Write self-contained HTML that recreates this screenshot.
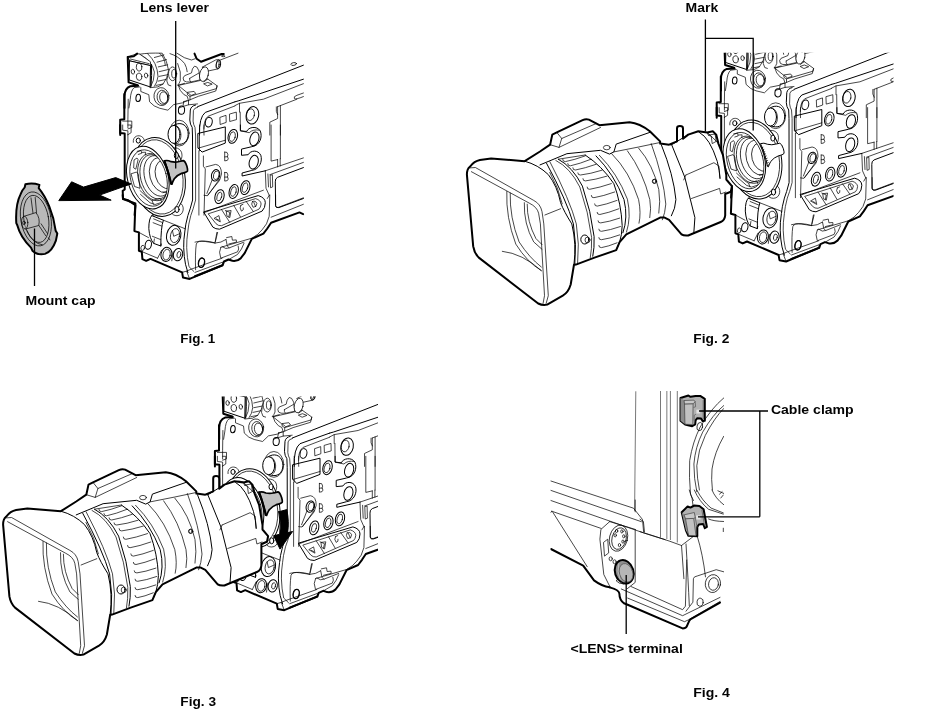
<!DOCTYPE html>
<html><head><meta charset="utf-8">
<style>
html,body{margin:0;padding:0;background:#fff;}
svg{display:block;}
text{font-family:"Liberation Sans",sans-serif;font-weight:bold;font-size:13.4px;fill:#000;}
.l{fill:none;stroke:#000;stroke-width:1.0;stroke-linecap:round;stroke-linejoin:round;}
.t{fill:none;stroke:#000;stroke-width:0.72;stroke-linecap:round;stroke-linejoin:round;}
.h{fill:none;stroke:#000;stroke-width:2.0;stroke-linecap:round;stroke-linejoin:round;}
.w{fill:#fff;stroke:#000;stroke-width:1.0;stroke-linecap:round;stroke-linejoin:round;}
.wt{fill:#fff;stroke:#000;stroke-width:0.72;stroke-linecap:round;stroke-linejoin:round;}
.wh{fill:#fff;stroke:#000;stroke-width:2.0;stroke-linecap:round;stroke-linejoin:round;}
.g{fill:#9a9a9a;stroke:#000;stroke-width:1;stroke-linejoin:round;}
.ld{fill:none;stroke:#000;stroke-width:1.3;}
</style></head><body>
<svg width="930" height="714" viewBox="0 0 930 714">
<rect width="930" height="714" fill="#fff"/>
<defs><g id="cam"><path class="wt" d="M 139.8 54.2 Q 148.4 52.7 162.2 53.2 Q 167.3 60.9 168.6 70.4 Q 167.7 78.1 163.0 84.1 L 157.8 86.9 L 150.1 87.7 L 150.5 65.6 Z"/>
<path class="t" d="M 139.8 54.5 Q 151.8 60.0 154.4 72.1 Q 154.4 80.7 150.3 87.6"/>
<path class="t" d="M 147.5 53.6 Q 157.4 62.6 158.0 76.4 Q 157.4 82.4 154.4 86.3"/>
<path class="t" d="M 154.4 57.5 L 163.9 54.9"/>
<path class="t" d="M 157.0 62.2 L 166.5 59.6"/>
<path class="t" d="M 158.3 66.9 L 167.7 64.8"/>
<path class="t" d="M 159.1 71.7 L 168.3 69.5"/>
<path class="t" d="M 159.1 76.4 L 167.8 74.7"/>
<path class="t" d="M 158.3 81.1 L 166.1 79.4"/>
<path class="t" d="M 156.1 85.4 L 163.0 84.0"/>
<path class="wt" d="M 127.7 57.0 L 137.2 53.6 L 139.8 54.2 L 150.5 61.8 L 150.5 65.6 L 129.9 60.9 Z"/>
<path class="w" d="M 129.9 60.9 L 150.5 65.6 L 150.1 86.9 L 129.5 80.0 Z"/>
<path class="t" d="M 130.3 59.0 L 149.2 63.7"/>
<path class="l" d="M 151.5 64.5 Q 152.0 75.5 151.0 86.3"/>
<path class="h" d="M 137.2 53.6 L 133.8 56.2 L 127.7 57.0 L 128.6 82.4 L 137.6 85.2"/>
<path class="t" d="M 127.7 57.0 L 129.9 60.9"/>
<ellipse class="t" cx="139.1" cy="67.1" rx="2.8" ry="3.9" transform="rotate(-8 139.1 67.1)"/>
<ellipse class="t" cx="139.1" cy="76.8" rx="2.8" ry="3.6" transform="rotate(-8 139.1 76.8)"/>
<ellipse class="t" cx="132.9" cy="71.7" rx="1.7" ry="2.4" transform="rotate(-8 132.9 71.7)"/>
<ellipse class="t" cx="146.1" cy="75.5" rx="1.7" ry="2.4" transform="rotate(-8 146.1 75.5)"/>
<path class="h" d="M 138.1 85.8 L 130.3 86.3 Q 124.7 88.4 124.5 96.2 L 124.5 108.0"/>
<path class="h" d="M 124.3 94.0 L 124.3 119.3 L 120.2 119.8 L 120.2 135.1"/>
<path class="t" d="M 139.8 86.9 L 134.2 87.6 Q 130.8 90.2 130.2 99.6 L 128.9 108.0"/>
<path class="t" d="M 128.2 99.2 L 127.9 119.2 L 127.9 127.6"/>
<path class="t" d="M 122.7 121.1 L 131.8 121.1 L 131.8 127.6 L 127.9 128.9"/>
<path class="t" d="M 140.8 87.6 L 140.8 91.5 L 148.8 94.7 L 149.6 101.8 Q 153.7 106.7 159.5 108.2 L 167.9 110.2 L 173.7 104.6 L 182.7 102.8 L 187.3 100.5"/>
<ellipse class="t" cx="161.5" cy="96.6" rx="7.5" ry="9.0" transform="rotate(-8 161.5 96.6)"/>
<ellipse class="t" cx="162.5" cy="97.3" rx="5.4" ry="7.1" transform="rotate(-8 162.5 97.3)"/>
<ellipse class="t" cx="163.8" cy="97.6" rx="4.1" ry="5.8" transform="rotate(-8 163.8 97.6)"/>
<ellipse class="l" cx="138.2" cy="97.9" rx="2.3" ry="3.6" transform="rotate(5 138.2 97.9)"/>
<ellipse class="l" cx="181.5" cy="110.2" rx="3.1" ry="4.1" transform="rotate(5 181.5 110.2)"/>
<path class="t" d="M 159.7 53.3 Q 164.8 57.5 165.3 65.2 M 167.4 76.4 Q 165.7 81.5 168.3 85.0 L 170.9 85.8"/>
<ellipse class="t" cx="172.6" cy="73.8" rx="4.1" ry="6.9"/>
<ellipse class="t" cx="173.9" cy="73.8" rx="2.2" ry="4.3"/>
<path class="t" d="M 170.0 53.6 Q 178.6 56.2 184.6 63.5 Q 186.8 67.4 187.2 71.7 M 176.9 53.2 Q 184.6 58.8 191.5 60.0 L 194.9 58.8 M 177.7 63.5 Q 181.6 72.1 180.3 80.7 Q 179.5 83.3 177.7 85.2"/>
<path class="t" d="M 178.2 85.2 L 184.6 83.3 M 207.8 79.1 L 217.1 85.8 L 216.5 88.6 L 190.0 96.3 L 187.6 94.9 L 187.2 92.7 L 178.6 85.7 Z"/>
<path class="t" d="M 178.2 85.2 Q 179.5 91.0 183.8 94.5 L 187.2 96.2 L 188.5 100.6 L 183.8 101.5 M 217.1 85.8 L 215.8 91.0 L 198.4 96.3 L 190.0 99.8 L 188.5 100.6 M 190.0 96.3 L 190.0 99.8"/>
<path class="t" d="M 204.0 83.7 L 207.8 82.4 L 212.2 84.1 L 207.8 85.8 Z M 187.6 92.3 L 194.1 91.4 L 195.8 93.6 L 191.5 95.3 Z"/>
<path class="t" d="M 183.8 101.5 L 182.9 106.5 L 178.6 108.0 M 188.5 100.6 L 188.5 104.8 L 197.5 103.9 M 188.5 104.8 L 182.9 106.5"/>
<path class="wt" d="M 198.8 70.5 Q 197.1 65.6 194.5 66.2 Q 191.9 68.2 191.5 72.9 L 184.6 75.7 Q 182.0 77.7 183.8 80.7 Q 185.5 82.4 190.6 82.0 L 199.7 80.0 Z"/>
<path class="t" d="M 189.8 78.3 L 198.8 73.1 M 189.6 78.3 Q 189.1 80.3 190.6 81.8"/>
<path class="wt" d="M 202.3 67.1 L 215.6 60.0 Q 219.5 58.3 220.6 62.6 Q 220.9 67.8 218.2 68.8 L 207.8 71.1 Z"/>
<ellipse class="t" cx="218.3" cy="64.3" rx="2.1" ry="4.6" transform="rotate(8 218.3 64.3)"/>
<ellipse class="t" cx="217.7" cy="64.5" rx="1.4" ry="3.8" transform="rotate(8 217.7 64.5)"/>
<ellipse class="wt" cx="204.0" cy="74.2" rx="4.3" ry="7.4" transform="rotate(14 204.0 74.2)"/>
<path class="t" d="M 207.8 79.0 L 204.0 81.7"/>
<path class="h" d="M 194.5 53.6 L 196.7 58.8 L 201.0 61.8 L 221.6 54.0 L 223.8 54.0"/>
<path class="t" d="M 219.0 60.5 L 238.0 53.2 M 221.6 55.7 Q 223.3 54.9 225.1 56.2 Q 223.8 57.0 222.0 56.6"/>
<path class="l" d="M197.6 106.7L303.4 65.2"/>
<path class="l" d="M 199.5 135.1 Q 198.9 117.3 205.3 112.4 L 235.0 101.8"/>
<path class="t" d="M 204.0 135.1 Q 202.7 119.8 208.2 116.2 L 235.0 105.9"/>
<ellipse class="l" cx="208.8" cy="122.2" rx="3.4" ry="4.9" transform="rotate(12 208.8 122.2)"/>
<path class="t" d="M 220.2 117.3 L 226.0 115.3 L 226.2 122.4 L 220.5 124.4 Z"/>
<path class="l" d="M195.6 105Q191 106 190.3 110L189.8 120Q190 124.5 192.2 127.4L192.5 136L192.6 200Q190 210 187.9 215.5Q185.3 225 184.9 231Q183.5 240 183.7 247.6Q184 257 185.5 264.3L187.9 272.6"/>
<path class="t" d="M197.6 107.2Q194 108 193.4 110.6L193.1 121.2Q193.5 125 195 127.4L195.6 136L195.6 200Q193 210 190.8 215.5Q188.3 225 187.9 231Q186.5 240 186.7 247.6Q187 258 189 266.7L193.8 271.4"/>
<path class="l" d="M 235.0 101.8 L 238.9 100.7 L 303.4 79.2"/>
<path class="t" d="M 235.0 105.6 L 239.5 103.3 L 263.4 99.2 L 303.4 83.7"/>
<ellipse class="t" cx="293.7" cy="64.0" rx="2.8" ry="1.4" transform="rotate(-10 293.7 64.0)"/>
<path class="t" d="M 229.8 114.0 L 236.3 112.1 L 236.5 119.6 L 230.1 121.4 Z"/>
<path class="t" d="M 303.4 93.0 L 296.9 95.3 Q 293.1 96.6 294.4 98.5 Q 295.6 99.8 303.4 96.6"/>
<path class="t" d="M 239.5 103.3 L 239.5 112.1 M 240.2 112.1 L 240.4 130.8 L 249.2 132.7 Q 253.1 128.9 259.5 130.2"/>
<ellipse class="l" cx="252.4" cy="115.3" rx="6.2" ry="8.8" transform="rotate(12 252.4 115.3)"/>
<ellipse class="t" cx="250.5" cy="114.7" rx="3.9" ry="5.9" transform="rotate(12 250.5 114.7)"/>
<path class="t" d="M 277.6 106.7 L 296.9 99.2 M 277.6 106.7 L 277.6 118.5 L 269.8 122.2 L 269.8 135.1 M 280.4 105.6 L 280.4 135.1 M 276.3 106.9 Q 275.6 112.1 277.6 114.7"/>
<path class="h" d="M 120.2 125.0 L 120.2 133.0 L 124.7 133.5 L 124.7 189.5 L 122.7 190.8 L 123.0 198.8 L 127.9 200.1 L 135.4 205.3 L 134.6 215.1"/>
<path class="t" d="M 122.7 125.0 L 122.7 130.2 L 127.9 130.8 L 127.9 134.7 M 127.9 125.0 L 131.1 125.0 L 131.1 132.7 L 127.9 134.7"/>
<path class="t" d="M 127.9 134.7 L 127.9 163.7"/>
<path class="t" d="M 133.3 142.3 C 132.1 133.9 143.9 133.4 144.5 141.2 M 170.8 149.0 C 174.2 146.2 182.0 147.9 182.0 155.2 C 182.0 159.7 179.8 161.9 177.5 162.5 M 179.8 202.8 C 185.4 205.1 184.2 215.7 177.0 215.7 C 174.2 215.7 172.5 214.6 171.4 212.9"/>
<ellipse class="w" cx="158.5" cy="176.9" rx="26.4" ry="39.8" transform="rotate(-10 158.5 176.9)"/>
<ellipse class="t" cx="158.3" cy="176.9" rx="24.4" ry="37.5" transform="rotate(-10 158.3 176.9)"/>
<ellipse class="w" cx="138.3" cy="140.6" rx="2.1" ry="2.5"/>
<ellipse class="w" cx="176.4" cy="155.5" rx="2.1" ry="3.0"/>
<ellipse class="w" cx="177.0" cy="209.5" rx="2.1" ry="3.0"/>
<!--MOUNT-->
<ellipse class="t" cx="179.2" cy="133.1" rx="9.9" ry="12.9"/>
<path class="w" d="M 173.6 125.4 C 178.8 121.9 186.3 123.0 188.0 131.6 C 189.1 139.1 185.2 144.5 179.2 144.3 L 174.0 143.4 Z"/>
<ellipse class="w" cx="174.0" cy="134.4" rx="6.0" ry="9.0"/>
<path class="t" d="M 176.6 125.8 C 182.0 128.4 182.6 140.2 177.7 143.0"/>
<path class="t" d="M 199.5 125.0 L 199.5 150.8 M 204.0 125.0 L 204.0 128.9 M 198.9 150.8 L 198.9 215.1 M 203.4 156.0 L 203.4 166.3 L 205.3 168.9 L 204.0 215.1"/>
<path class="l" d="M 198.2 133.4 L 225.3 126.9 L 225.3 143.1 L 202.1 152.1 L 198.2 148.2 Z"/>
<path class="t" d="M 198.2 148.2 L 225.3 140.2"/>
<ellipse class="l" cx="232.8" cy="136.4" rx="4.6" ry="7.1" transform="rotate(15 232.8 136.4)"/>
<ellipse class="t" cx="232.4" cy="136.6" rx="2.8" ry="4.9" transform="rotate(15 232.4 136.6)"/>
<path class="l" d="M 240.4 125.0 L 240.4 130.8 L 246.6 131.5 C 248.5 126.9 256.9 125.6 260.2 130.8 C 262.7 136.6 260.2 145.6 251.8 146.7 L 241.5 149.1 L 241.5 155.3 L 248.2 154.7 C 250.5 150.2 258.2 149.5 260.8 155.3 C 262.7 161.1 259.5 169.5 251.8 170.4 L 242.1 173.0 L 242.1 176.0 L 265.3 170.8"/>
<ellipse class="l" cx="254.4" cy="138.9" rx="4.4" ry="7.0" transform="rotate(15 254.4 138.9)"/>
<ellipse class="l" cx="253.7" cy="162.2" rx="4.4" ry="7.0" transform="rotate(15 253.7 162.2)"/>
<path class="t" d="M 224.7 152.1 L 224.7 160.9 L 227.3 160.4 Q 229.1 159.1 227.5 156.7 L 224.7 156.9 M 227.5 156.7 Q 228.8 154.9 227.0 152.4 L 224.7 152.1"/>
<path class="t" d="M 224.7 172.4 L 224.7 181.1 L 227.3 180.6 Q 229.1 179.3 227.5 177.0 L 224.7 177.1 M 227.5 177.0 Q 228.8 175.2 227.0 172.6 L 224.7 172.4"/>
<path class="t" d="M 206.0 166.9 L 215.6 164.4 Q 221.5 165.0 221.5 174.0 L 219.5 180.5 L 207.3 195.7 L 204.0 195.3"/>
<ellipse class="l" cx="215.6" cy="175.3" rx="4.1" ry="5.8" transform="rotate(15 215.6 175.3)"/>
<ellipse class="t" cx="216.3" cy="175.3" rx="2.8" ry="4.4" transform="rotate(15 216.3 175.3)"/>
<path class="t" d="M 212.4 179.2 L 206.9 193.4 M 219.5 179.2 L 207.9 195.3"/>
<ellipse class="l" cx="219.5" cy="196.6" rx="4.5" ry="7.1" transform="rotate(15 219.5 196.6)"/>
<ellipse class="t" cx="219.3" cy="196.6" rx="2.3" ry="4.5" transform="rotate(15 219.3 196.6)"/>
<ellipse class="l" cx="233.7" cy="191.5" rx="4.5" ry="7.1" transform="rotate(15 233.7 191.5)"/>
<ellipse class="t" cx="233.5" cy="191.5" rx="2.6" ry="4.9" transform="rotate(15 233.5 191.5)"/>
<ellipse class="l" cx="245.3" cy="187.6" rx="4.5" ry="7.1" transform="rotate(15 245.3 187.6)"/>
<ellipse class="t" cx="245.1" cy="187.6" rx="2.6" ry="4.9" transform="rotate(15 245.1 187.6)"/>
<path class="t" d="M 271.1 125.0 L 271.1 161.1 L 277.6 159.6 M 280.4 125.0 L 280.4 158.8 M 277.6 159.6 L 277.6 166.9 M 280.2 158.8 L 280.2 166.0"/>
<path class="t" d="M 265.3 170.8 L 303.4 157.9 M 265.3 170.8 L 266.0 188.2 L 269.2 195.3 M 269.8 174.7 L 303.4 162.4 M 267.9 174.0 L 268.5 186.9 M 270.5 175.3 L 272.4 174.7 L 272.7 186.9 L 270.9 187.6 Z"/>
<path class="l" d="M 303.4 167.6 L 277.6 177.3 Q 275.0 178.5 275.3 181.8 L 275.6 205.6 Q 276.0 208.2 278.9 207.6 L 303.4 198.5"/>
<path class="t" d="M 204.0 212.7 L 263.4 190.2 M 269.2 195.3 L 267.3 198.5"/>
<path class="h" d="M 195.0 276.3 L 222.7 265.3 L 224.0 261.5 L 228.5 259.5 L 232.4 260.8 Q 237.6 261.5 240.8 258.2 L 244.7 253.1 L 251.8 238.9 L 263.4 233.7 L 267.3 228.5 L 271.1 222.7 L 299.5 212.4 L 303.1 214.1"/>
<path class="l" d="M 204.0 211.8 L 258.2 195.6 Q 265.3 197.6 265.3 202.7 Q 265.3 207.9 262.1 211.1 L 219.5 229.2 Q 215.6 229.2 213.1 227.3 Z"/>
<path class="t" d="M 208.5 213.7 L 255.6 198.6 Q 260.8 200.2 261.1 204.0 Q 260.8 207.3 258.9 209.2 L 221.5 225.7 Q 218.2 226.0 216.3 224.0 Z"/>
<path class="t" d="M 221.5 209.5 L 229.8 222.4 M 233.7 205.3 L 240.4 216.7 M 246.0 201.2 L 253.3 211.5"/>
<path class="t" d="M 214.4 218.2 L 218.9 215.6 L 220.2 221.5 Z M 216.3 218.9 L 218.9 220.2"/>
<path class="t" d="M 225.3 210.5 L 229.8 212.4 L 228.8 216.9 M 226.6 211.1 L 231.1 210.5 L 229.8 217.6 L 227.3 216.3 Z"/>
<path class="t" d="M 240.8 205.3 Q 238.9 207.9 241.5 211.1 Q 244.0 210.5 243.4 207.9 M 240.8 205.3 L 243.0 204.3"/>
<path class="t" d="M 252.4 201.5 Q 250.5 204.0 253.1 207.3 Q 256.9 207.3 256.9 203.4 Q 255.6 200.2 252.4 201.5 M 253.7 202.1 L 255.6 206.6"/>
<path class="t" d="M 269.8 195.0 L 269.2 216.3 Q 267.3 224.7 262.1 229.8 Q 258.2 235.0 251.8 238.2 L 220.8 247.3"/>
<path class="t" d="M 271.1 217.2 L 303.4 204.3 M 275.6 195.0 L 275.6 206.6 Q 276.3 207.9 278.2 207.4 L 303.4 197.8"/>
<path class="t" d="M 217.6 232.4 L 215.4 241.5 M 195.0 242.1 Q 204.0 239.5 215.4 243.0 Q 220.8 243.0 226.0 239.5"/>
<path class="t" d="M 220.8 247.3 Q 218.2 251.8 220.8 258.2 L 237.6 251.8 Q 239.5 249.2 238.2 246.0"/>
<path class="t" d="M 226.0 239.5 L 227.3 246.0 L 229.2 247.9 M 226.6 237.6 L 231.8 236.5 L 232.4 240.2 L 236.3 239.9 L 236.5 242.1 L 228.8 244.0"/>
<path class="t" d="M 222.1 246.6 Q 226.0 249.8 229.2 247.9 L 244.0 242.1 M 229.8 258.9 L 237.6 254.4 Q 242.1 249.2 244.0 243.4"/>
<ellipse class="l" cx="201.5" cy="262.7" rx="3.2" ry="4.9" transform="rotate(12 201.5 262.7)"/>
<path class="t" d="M 195.0 272.4 L 222.7 262.1 L 222.7 265.3"/>
<path class="h" d="M 122.7 195.0 L 123.0 199.1 L 127.9 200.8 L 135.4 203.5 L 134.4 231.1 L 138.9 232.4 L 138.9 250.7 L 141.8 251.8 L 142.4 259.1 L 146.2 260.8 L 150.5 258.9 L 182.1 272.4 L 183.0 277.6 L 189.6 278.9 L 222.1 265.3"/>
<path class="t" d="M 182.1 272.4 L 186.6 271.1 L 189.6 278.9 M 186.6 271.1 L 191.1 269.2 L 222.1 258.2"/>
<path class="t" d="M 138.9 232.4 L 148.5 237.6 M 142.4 251.8 L 157.6 258.2 M 146.2 260.8 L 150.5 258.9"/>
<path class="l" d="M 151.8 215.6 Q 148.8 218.2 148.8 228.5 Q 149.6 238.9 153.7 243.4 L 160.8 246.0 L 161.2 244.0 M 151.8 215.6 L 163.4 220.2 Q 160.8 227.3 160.8 246.0"/>
<path class="t" d="M 153.7 218.9 L 162.1 222.4 M 153.1 222.7 L 161.5 226.0 M 152.4 236.3 L 160.4 239.5 M 153.7 243.4 L 154.4 238.9"/>
<path class="t" d="M 163.4 220.2 L 185.3 228.8 M 152.4 214.4 L 153.7 216.3"/>
<ellipse class="l" cx="173.7" cy="235.3" rx="7.1" ry="10.1" transform="rotate(12 173.7 235.3)"/>
<ellipse class="t" cx="175.0" cy="235.6" rx="4.5" ry="7.1" transform="rotate(12 175.0 235.6)"/>
<path class="t" d="M 172.4 230.5 L 173.7 236.3 L 179.5 233.7"/>
<ellipse class="l" cx="148.3" cy="244.7" rx="3.1" ry="4.6" transform="rotate(12 148.3 244.7)"/>
<ellipse class="t" cx="142.7" cy="247.9" rx="1.8" ry="2.6" transform="rotate(12 142.7 247.9)"/>
<ellipse class="l" cx="166.4" cy="254.4" rx="5.4" ry="7.1" transform="rotate(12 166.4 254.4)"/>
<ellipse class="t" cx="166.6" cy="254.6" rx="3.6" ry="5.4" transform="rotate(12 166.6 254.6)"/>
<ellipse class="l" cx="178.0" cy="254.6" rx="4.6" ry="6.2" transform="rotate(12 178.0 254.6)"/>
<ellipse class="t" cx="178.9" cy="254.6" rx="1.9" ry="3.2" transform="rotate(12 178.9 254.6)"/>
<path class="t" d="M 157.6 258.2 L 161.5 250.5 M 171.8 260.8 L 173.1 251.8"/>
<path class="t" d="M 195.6 269.8 Q 195.0 253.1 196.3 244.0 Q 197.6 240.2 205.3 241.5 L 215.0 243.0 M 216.9 232.4 L 215.0 243.0"/>
<ellipse class="l" cx="201.5" cy="262.7" rx="2.8" ry="4.6" transform="rotate(12 201.5 262.7)"/></g><g id="lens"><path class="wh" d="M 466.9 174.6 Q 466.9 169.0 469.8 166.8 Q 474.3 161.2 479.9 160.1 L 491.1 158.5 L 524.7 161.2 L 540.0 151.5 L 550.1 144.7 L 552.3 134.6 L 556.8 132.4 L 582.6 120.1 Q 585.9 118.5 588.9 119.6 L 599.4 125.2 L 629.6 122.3 Q 639.7 123.4 649.8 131.3 L 660.1 141.4 L 660.2 143.6 L 669.1 144.7 L 677.0 141.4 L 677.0 128.4 Q 677.0 126.1 679.9 126.1 Q 683.0 126.1 683.0 128.4 L 683.0 138.7 L 688.2 134.6 L 698.3 131.3 L 707.2 132.4 L 712.8 131.3 L 716.2 134.6 L 718.4 143.6 L 722.9 154.8 L 726.3 175.0 L 726.3 179.5 L 731.9 186.2 L 730.8 191.8 L 725.2 194.0 L 725.2 215.3 Q 724.7 220.3 720.7 222.0 L 688.2 235.5 Q 683.7 235.9 681.5 234.4 L 669.1 219.8 L 664.6 217.6 L 660.1 217.6 L 626.3 234.4 L 619.6 242.2 L 616.2 250.1 L 593.8 257.9 L 575.9 264.6 L 574.0 264.7 L 570.7 284.5 Q 568.4 292.3 562.8 295.7 L 547.2 304.6 Q 542.7 305.7 538.2 303.5 L 478.8 257.6 Q 474.3 253.1 473.2 246.4 Z"/>
<path class="t" d="M 469.8 167.9 L 475.4 167.5 L 533.7 200.4 Q 540.4 203.8 542.0 211.6 L 543.8 223.9 L 548.3 295.7 L 546.0 303.9"/>
<path class="t" d="M 471.4 171.7 L 529.2 203.1 Q 537.1 206.9 538.6 213.2 L 540.4 223.9 L 544.5 295.7 L 543.1 303.3"/>
<path class="l" d="M 524.7 161.2 Q 538.2 164.8 548.3 174.6 Q 557.2 185.9 560.6 202.7 Q 564.0 211.6 571.8 223.9 Q 576.7 244.1 574.0 264.3"/>
<path class="t" d="M 549.8 172.4 Q 558.8 188.1 562.2 203.8"/>
<path class="t" d="M 544.9 215.0 L 560.6 208.7"/>
<path class="t" d="M 506.8 191.5 Q 505.7 217.2 515.8 244.1 Q 527.0 262.0 541.3 270.6 M 510.2 193.0 Q 509.5 217.2 519.1 241.9 Q 529.2 257.6 541.3 267.0"/>
<path class="t" d="M 524.3 202.7 Q 523.6 223.9 533.7 241.9 L 542.0 249.3 M 527.2 204.2 Q 527.0 221.7 535.9 238.5 L 542.0 244.6"/>
<path class="t" d="M 502.3 251.3 Q 522.5 253.5 541.3 270.6"/>
<path class="t" d="M 550.1 144.7 L 559.0 147.4 L 600.5 127.5 M 556.8 132.4 L 561.7 138.5 L 596.5 123.4 M 559.0 147.4 L 561.7 138.5"/>
<path class="l" d="M 540.0 164.9 L 566.9 153.7 L 600.5 150.3 L 609.5 154.1 L 613.9 151.9 L 616.2 144.1 L 649.8 132.4"/>
<ellipse class="t" cx="606.8" cy="147.6" rx="3.4" ry="2.2"/>
<path class="t" d="M 613.9 151.9 L 638.6 147.0 L 660.1 142.5"/>
<path class="l" d="M 546.6 163.4 Q 566.7 200.4 573.4 223.9 Q 576.8 244.1 574.8 265.1"/>
<path class="t" d="M 549.9 161.8 Q 570.1 200.4 576.3 223.9 Q 579.7 244.1 577.6 263.9"/>
<path class="t" d="M 555.8 160.4 Q 570.1 167.6 579.8 187.0 Q 588.6 212.2 591.6 237.4 Q 591.9 249.2 590.3 257.6"/>
<path class="l" d="M 558.3 159.2 Q 572.6 166.8 582.4 186.1 Q 591.1 211.3 594.1 236.6 Q 594.5 248.3 592.8 256.2"/>
<path class="l" d="M 585.2 155.0 Q 602.0 166.0 613.8 183.6 Q 621.3 203.8 622.2 225.6 Q 621.8 235.7 619.7 241.6 L 617.1 248.2"/>
<path class="t" d="M 558.3 159.2 L 585.2 155.0"/>
<path class="t" d="M 562.7 159.4 Q 562.7 161.8 565.4 161.6 Q 574.3 159.9 585.2 155.9"/>
<path class="t" d="M 567.7 163.6 Q 567.7 166.0 570.4 165.8 Q 579.7 163.8 591.1 159.2"/>
<path class="t" d="M 572.8 167.8 Q 572.8 170.2 575.5 170.0 Q 584.7 168.3 596.1 164.3"/>
<path class="t" d="M 577.8 172.9 Q 577.8 175.2 580.5 175.0 Q 590.3 173.9 602.0 170.2"/>
<path class="t" d="M 582.9 178.7 Q 582.9 181.1 585.5 180.9 Q 595.3 179.7 607.1 176.1"/>
<path class="t" d="M 587.1 187.1 Q 587.1 189.5 589.7 189.3 Q 599.5 187.6 611.3 183.6"/>
<path class="t" d="M 591.3 195.5 Q 591.3 197.9 593.9 197.7 Q 603.2 196.1 614.6 192.0"/>
<path class="t" d="M 594.6 203.9 Q 594.6 206.3 597.3 206.1 Q 606.2 204.5 617.1 200.4"/>
<path class="t" d="M 597.1 212.4 Q 597.1 214.7 599.8 214.5 Q 608.2 212.9 618.8 208.8"/>
<path class="t" d="M 598.0 220.8 Q 598.0 223.1 600.7 222.9 Q 609.1 221.8 619.7 218.1"/>
<path class="t" d="M 598.8 229.2 Q 598.8 231.5 601.5 231.3 Q 609.9 230.2 620.5 226.5"/>
<path class="t" d="M 598.8 237.6 Q 598.8 239.9 601.5 239.7 Q 609.6 238.6 619.7 234.9"/>
<path class="t" d="M 598.8 245.5 Q 598.8 247.8 601.5 247.6 Q 608.2 246.5 617.1 242.8"/>
<path class="l" d="M 596.0 155.9 Q 613.9 173.9 624.0 199.6 Q 628.3 217.6 622.9 232.8"/>
<path class="t" d="M 599.4 155.3 Q 617.3 173.2 627.4 199.2 Q 631.4 217.1 626.5 232.1"/>
<path class="t" d="M 611.7 153.7 Q 629.6 171.6 638.6 199.6 Q 641.3 213.1 639.0 223.2"/>
<path class="t" d="M 627.4 150.8 Q 643.1 171.6 649.8 199.6 Q 651.4 208.6 649.8 217.6"/>
<path class="t" d="M 638.6 148.1 Q 653.2 164.9 658.8 189.6 Q 660.6 201.9 658.8 213.1"/>
<ellipse class="t" cx="654.7" cy="181.3" rx="2.0" ry="2.2"/>
<ellipse class="w" cx="584.8" cy="239.5" rx="4.0" ry="4.5"/>
<ellipse class="t" cx="587.5" cy="240.0" rx="2.5" ry="2.9"/>
<path class="l" d="M 699.4 132.4 Q 709.9 138.0 717.3 161.5 Q 719.6 170.5 720.0 178.3"/>
<path class="t" d="M 707.2 132.4 Q 713.5 138.0 718.4 143.6"/>
<path class="t" d="M 707.2 132.4 L 708.3 135.1 L 715.1 134.0 L 716.2 141.4 L 712.2 143.6 L 711.3 136.4 L 708.3 135.1"/>
<path class="l" d="M 688.2 134.6 L 673.6 143.6 L 670.9 145.0 M 671.4 144.1 L 684.8 177.2 L 694.9 217.6 L 693.8 233.2"/>
<path class="t" d="M 685.9 175.0 L 713.9 162.7 L 718.9 166.0 L 720.0 178.3 M 683.7 179.9 L 685.9 175.0 M 691.5 198.5 L 719.6 188.4 L 720.7 194.0 L 725.8 192.0"/>
<path class="l" d="M 661.3 144.7 Q 673.6 175.0 675.9 199.6 Q 675.4 208.6 671.4 215.8"/>
<path class="t" d="M 651.2 143.6 Q 663.5 177.2 665.8 204.1 Q 665.1 213.1 662.4 219.8"/>
<ellipse class="t" cx="654.1" cy="181.3" rx="1.8" ry="2.0"/></g><clipPath id="c2"><rect x="700" y="52.8" width="193.5" height="240"/></clipPath><clipPath id="c3"><rect x="200" y="396.5" width="178" height="240"/></clipPath></defs>
<g id="f1"><use href="#cam"/><ellipse class="w" cx="147.8" cy="177.6" rx="20.3" ry="32.0" transform="rotate(-15 147.8 177.6)"/>
<ellipse class="t" cx="148.6" cy="178.0" rx="17.9" ry="28.8" transform="rotate(-15 148.6 178.0)"/>
<clipPath id="mc1"><ellipse cx="148.6" cy="178.0" rx="17.9" ry="28.8" transform="rotate(-15 148.6 178.0)"/></clipPath><g clip-path="url(#mc1)">
<ellipse class="t" cx="153.7" cy="177.1" rx="15.4" ry="24.1" transform="rotate(-15 153.7 177.1)"/>
<ellipse class="t" cx="154.8" cy="176.8" rx="14.2" ry="22.6" transform="rotate(-15 154.8 176.8)"/>
<ellipse class="t" cx="157.6" cy="175.9" rx="13.1" ry="20.7" transform="rotate(-15 157.6 175.9)"/>
<ellipse class="t" cx="161.6" cy="175.0" rx="11.8" ry="17.7" transform="rotate(-15 161.6 175.0)"/>
<ellipse class="t" cx="165.8" cy="174.3" rx="10.4" ry="14.6" transform="rotate(-15 165.8 174.3)"/>
<path class="t" d="M 140.0 190.5 L 147.8 197.8 L 151.8 200.6 L 160.2 198.3 L 161.8 202.3 L 155.1 204.5 L 150.1 202.8 L 140.5 194.4 M 152.3 201.1 L 153.4 204.2 M 163.0 192.7 L 166.9 191.6 L 165.8 196.1"/>
</g>
<path class="t" d="M 137.2 151.3 L 141.1 150.5 L 141.7 153.3 L 138.3 154.4 M 142.2 152.4 L 145.6 152.2 L 145.3 154.9 M 134.4 159.7 L 137.0 158.0 L 138.1 159.7 L 135.8 169.2 L 134.0 168.1 Z M 131.4 173.7 L 136.6 172.0 L 138.3 174.3 L 140.0 188.3 L 134.9 186.6 Z"/><path class="g" d="M 164.3 160.9 Q 167.2 159.8 171.2 161.7 Q 175.3 162.7 179.3 161.5 L 183.3 160.6 Q 185.2 161.1 186.9 166.2 Q 187.9 169.8 187.5 170.9 Q 186.6 172.2 181.6 173.4 Q 177.5 174.9 174.3 178.8 Q 172.7 181.5 171.9 184.2 L 170.8 183.7 Q 170.1 178.3 166.8 167.6 Z" style="fill:#c2c2c2;stroke-width:1.7"/>
<path class="h" d="M 164.5 161.0 Q 168.5 171.9 171.3 183.7" style="stroke-width:2.0"/><path class="l" d="M 59.0 200.3 L 71.6 181.8 L 83.5 187.1 L 115.7 177.6 L 131.1 183.9 L 99.6 195.1 L 110.8 200.0 Z" style="fill:#000"/>
<path class="h" d="M 25.4 184.3 Q 32.4 182.5 39.4 184.9 L 38.7 188.1 C 46.4 197.2 53.7 214.0 55.7 230.8 L 57.3 233.6 L 55.9 240.6 C 53.4 247.6 49.2 252.5 45.0 253.9 C 39.4 255.3 35.2 253.2 32.4 250.7 L 31.0 247.6 C 24.0 240.6 19.1 232.2 17.3 225.2 L 16.3 223.1 C 15.6 211.2 17.7 200.0 20.5 194.4 C 21.9 190.9 23.3 188.8 24.7 187.4 Z" style="fill:#b9b9b9"/>
<ellipse class="t" cx="35.9" cy="218.9" rx="15.1" ry="27.3" transform="rotate(-10 35.9 218.9)"/>
<ellipse class="t" cx="36.2" cy="218.9" rx="12.3" ry="23.8" transform="rotate(-10 36.2 218.9)"/>
<path class="t" d="M 31.0 197.9 L 33.1 214.0 M 35.2 197.5 L 36.6 213.3"/>
<path class="t" d="M 38.7 225.2 L 45.7 235.7 M 41.1 223.8 L 47.5 233.6"/>
<path class="t" d="M 24.7 216.1 L 35.9 212.6 Q 40.5 218.2 38.7 225.5 L 25.7 229.0" style="fill:#b9b9b9"/>
<ellipse class="t" cx="24.7" cy="222.6" rx="3.1" ry="6.4" transform="rotate(-5 24.7 222.6)"/>
<ellipse class="t" cx="24.0" cy="222.8" rx="1.3" ry="1.7"/>
<path class="t" d="M 26.8 230.8 Q 32.4 243.4 42.2 244.8 M 48.5 237.8 L 49.9 239.9"/></g>
<g id="f2"><g clip-path="url(#c2)"><g transform="translate(596.5 -17.4)"><use href="#cam"/><ellipse class="w" cx="147.8" cy="177.6" rx="20.3" ry="32.0" transform="rotate(-15 147.8 177.6)"/>
<ellipse class="t" cx="148.6" cy="178.0" rx="17.9" ry="28.8" transform="rotate(-15 148.6 178.0)"/>
<clipPath id="mc2"><ellipse cx="148.6" cy="178.0" rx="17.9" ry="28.8" transform="rotate(-15 148.6 178.0)"/></clipPath><g clip-path="url(#mc2)">
<ellipse class="t" cx="153.7" cy="177.1" rx="15.4" ry="24.1" transform="rotate(-15 153.7 177.1)"/>
<ellipse class="t" cx="154.8" cy="176.8" rx="14.2" ry="22.6" transform="rotate(-15 154.8 176.8)"/>
<ellipse class="t" cx="157.6" cy="175.9" rx="13.1" ry="20.7" transform="rotate(-15 157.6 175.9)"/>
<ellipse class="t" cx="161.6" cy="175.0" rx="11.8" ry="17.7" transform="rotate(-15 161.6 175.0)"/>
<ellipse class="t" cx="165.8" cy="174.3" rx="10.4" ry="14.6" transform="rotate(-15 165.8 174.3)"/>
<path class="t" d="M 140.0 190.5 L 147.8 197.8 L 151.8 200.6 L 160.2 198.3 L 161.8 202.3 L 155.1 204.5 L 150.1 202.8 L 140.5 194.4 M 152.3 201.1 L 153.4 204.2 M 163.0 192.7 L 166.9 191.6 L 165.8 196.1"/>
</g>
<path class="t" d="M 137.2 151.3 L 141.1 150.5 L 141.7 153.3 L 138.3 154.4 M 142.2 152.4 L 145.6 152.2 L 145.3 154.9 M 134.4 159.7 L 137.0 158.0 L 138.1 159.7 L 135.8 169.2 L 134.0 168.1 Z M 131.4 173.7 L 136.6 172.0 L 138.3 174.3 L 140.0 188.3 L 134.9 186.6 Z"/><path class="w" d="M 164.3 160.9 Q 167.2 159.8 171.2 161.7 Q 175.3 162.7 179.3 161.5 L 183.3 160.6 Q 185.2 161.1 186.9 166.2 Q 187.9 169.8 187.5 170.9 Q 186.6 172.2 181.6 173.4 Q 177.5 174.9 174.3 178.8 Q 172.7 181.5 171.9 184.2 L 170.8 183.7 Q 170.1 178.3 166.8 167.6 Z"/>
<path class="t" d="M 164.9 165.3 L 166.4 164.7"/>
<path class="t" d="M 165.9 167.6 L 167.4 166.9"/>
<path class="t" d="M 166.9 169.7 L 168.3 169.1"/>
<path class="t" d="M 167.6 171.9 L 169.1 171.3"/>
<path class="t" d="M 168.3 174.1 L 169.8 173.4"/>
<path class="t" d="M 169.1 176.3 L 170.6 175.7"/>
<path class="t" d="M 169.7 178.6 L 171.2 177.9"/>
<path class="t" d="M 170.3 180.7 L 171.8 180.0"/>
<path class="t" d="M 170.8 182.9 L 172.3 182.3"/></g></g><use href="#lens"/></g>
<g id="f3"><g clip-path="url(#c3)"><g transform="translate(94.7 331.3)"><use href="#cam"/><ellipse class="w" cx="147.8" cy="177.6" rx="20.3" ry="32.0" transform="rotate(-15 147.8 177.6)"/>
<ellipse class="t" cx="148.6" cy="178.0" rx="17.9" ry="28.8" transform="rotate(-15 148.6 178.0)"/>
<clipPath id="mc3"><ellipse cx="148.6" cy="178.0" rx="17.9" ry="28.8" transform="rotate(-15 148.6 178.0)"/></clipPath><g clip-path="url(#mc3)">
<ellipse class="t" cx="153.7" cy="177.1" rx="15.4" ry="24.1" transform="rotate(-15 153.7 177.1)"/>
<ellipse class="t" cx="154.8" cy="176.8" rx="14.2" ry="22.6" transform="rotate(-15 154.8 176.8)"/>
<ellipse class="t" cx="157.6" cy="175.9" rx="13.1" ry="20.7" transform="rotate(-15 157.6 175.9)"/>
<ellipse class="t" cx="161.6" cy="175.0" rx="11.8" ry="17.7" transform="rotate(-15 161.6 175.0)"/>
<ellipse class="t" cx="165.8" cy="174.3" rx="10.4" ry="14.6" transform="rotate(-15 165.8 174.3)"/>
<path class="t" d="M 140.0 190.5 L 147.8 197.8 L 151.8 200.6 L 160.2 198.3 L 161.8 202.3 L 155.1 204.5 L 150.1 202.8 L 140.5 194.4 M 152.3 201.1 L 153.4 204.2 M 163.0 192.7 L 166.9 191.6 L 165.8 196.1"/>
</g>
<path class="t" d="M 137.2 151.3 L 141.1 150.5 L 141.7 153.3 L 138.3 154.4 M 142.2 152.4 L 145.6 152.2 L 145.3 154.9 M 134.4 159.7 L 137.0 158.0 L 138.1 159.7 L 135.8 169.2 L 134.0 168.1 Z M 131.4 173.7 L 136.6 172.0 L 138.3 174.3 L 140.0 188.3 L 134.9 186.6 Z"/></g></g><use href="#lens" transform="translate(-463.8 350)"/><g transform="translate(94.7 331.3)"><path class="g" d="M 164.3 160.9 Q 167.2 159.8 171.2 161.7 Q 175.3 162.7 179.3 161.5 L 183.3 160.6 Q 185.2 161.1 186.9 166.2 Q 187.9 169.8 187.5 170.9 Q 186.6 172.2 181.6 173.4 Q 177.5 174.9 174.3 178.8 Q 172.7 181.5 171.9 184.2 L 170.8 183.7 Q 170.1 178.3 166.8 167.6 Z" style="fill:#c2c2c2;stroke-width:1.7"/>
<path class="h" d="M 164.5 161.0 Q 168.5 171.9 171.3 183.7" style="stroke-width:2.0"/></g><path class="l" d="M 278.7 511.8 L 286.8 509.6 Q 289.4 522.2 287.6 532.6 L 292.6 531.5 L 280.0 549.1 L 273.6 535.7 L 279.7 534.3 Q 281.4 522.2 278.7 511.8 Z" style="fill:#000"/></g>
<g id="f4"><clipPath id="c4"><rect x="550.5" y="385" width="173.5" height="260"/></clipPath><g clip-path="url(#c4)"><path class="t" d="M 635.8 391.7 L 634.6 510.5" style="stroke:#555;stroke-width:0.8"/>
<path d="M660.5 391V537.5M670.4 391V540M677.3 391V542.5" style="fill:none;stroke:#555;stroke-width:0.8"/>
<path d="M666.8 391V539" style="fill:none;stroke:#999;stroke-width:1.3"/>
<path class="t" d="M 550.6 480.9 L 633.5 508.2 L 642.5 519.5 L 643.6 531.8 M 550.6 490.3 L 641.4 521.7 M 550.6 500.4 L 643.6 532.9 L 665.1 539.6 M 551.7 511.2 L 601.0 528.4"/>
<path class="t" d="M 551.7 511.2 L 550.6 512.7"/>
<path class="t" d="M 552.8 512.2 L 587.2 566.7"/>
<path class="t" d="M 635.2 500.0 L 635.2 511.8 M 635.2 529.4 L 635.2 582.4 L 627.4 588.6"/>
<path class="t" d="M 609.7 521.6 L 600.9 529.4 L 599.9 539.2 L 603.8 574.5 L 609.7 586.3 M 609.7 521.6 L 635.2 529.4"/>
<ellipse class="t" cx="618.5" cy="538.2" rx="9.0" ry="13.3" transform="rotate(14 618.5 538.2)"/>
<ellipse class="t" cx="619.1" cy="538.6" rx="7.1" ry="11.0" transform="rotate(14 619.1 538.6)"/>
<ellipse class="t" cx="616.6" cy="531.0" rx="1.2" ry="1.6"/>
<ellipse class="t" cx="621.9" cy="531.4" rx="1.2" ry="1.6"/>
<ellipse class="t" cx="623.8" cy="536.3" rx="1.2" ry="1.6"/>
<ellipse class="t" cx="623.0" cy="541.6" rx="1.2" ry="1.6"/>
<ellipse class="t" cx="619.5" cy="545.1" rx="1.2" ry="1.6"/>
<ellipse class="t" cx="615.2" cy="535.3" rx="1.2" ry="1.6"/>
<path class="t" d="M 603.8 542.2 L 607.7 539.2 L 608.7 552.9 L 604.8 555.9 Z"/>
<ellipse class="t" cx="610.7" cy="558.8" rx="1.6" ry="2.0"/>
<ellipse class="t" cx="614.6" cy="561.8" rx="1.6" ry="2.0"/>
<ellipse class="h" style="fill:#8f8f8f" cx="624.2" cy="571.8" rx="9.2" ry="12.0" transform="rotate(-18 624.2 571.8)"/>
<ellipse class="t" style="fill:#b6b6b6;stroke:#555" cx="626.1" cy="572.8" rx="6.6" ry="9.5" transform="rotate(-18 626.1 572.8)"/>
<path class="t" d="M 618.7 563.7 Q 616.6 571.4 620.1 579.8" style="stroke:#ccc"/>
<path class="t" d="M 616.3 581.0 Q 618.7 584.0 623.6 583.8 Q 620.1 582.9 617.7 580.1 Z" style="fill:#fff;stroke:#000"/>
<path class="h" d="M 550.9 549.0 L 583.2 565.7 L 594.0 580.4 Q 601.9 586.3 609.7 587.3"/>
<path class="h" d="M 609.7 587.4 Q 619.4 589.9 619.4 593.8 Q 619.4 600.0 623.9 603.2 L 627.1 604.5 L 682.6 628.4 Q 685.8 628.4 686.7 626.5 L 689.0 621.3 L 690.3 619.4 L 720.0 602.6"/>
<path class="t" d="M 631.0 586.5 L 682.6 609.7 L 685.4 606.2 L 686.7 560.0 M 621.3 589.0 L 682.6 615.7 L 720.0 597.4 M 627.7 598.1 L 684.5 621.7 L 689.0 619.6 L 720.0 601.5"/>
<path class="t" d="M 640.0 519.2 L 643.4 521.5 L 644.5 532.0 M 640.0 531.6 L 669.1 541.0 L 681.5 545.5 L 693.8 536.1"/>
<path class="t" d="M 681.5 545.5 L 683.9 578.7 M 686.0 543.9 Q 688.2 580.9 689.3 605.6"/>
<path class="t" d="M 686.0 611.2 L 692.9 602.2 L 693.4 578.7 Q 693.8 576.4 697.2 576.0 L 716.2 569.7 L 724.1 571.9 M 697.2 536.1 Q 702.8 554.0 705.5 576.9"/>
<ellipse class="t" cx="712.9" cy="583.6" rx="7.6" ry="9.0" transform="rotate(10 712.9 583.6)"/>
<ellipse class="t" cx="713.5" cy="584.0" rx="4.9" ry="6.3" transform="rotate(10 713.5 584.0)"/>
<ellipse class="t" cx="700.1" cy="602.2" rx="3.1" ry="4.0" transform="rotate(10 700.1 602.2)"/>
<path class="t" d="M 723.7 398.0 Q 711.1 408.5 700.2 427.0 Q 692.6 442.1 689.7 460.6 Q 688.9 477.4 690.5 494.2 L 693.5 500.5"/>
<path class="t" d="M 723.7 405.6 Q 712.8 414.4 702.7 432.1 Q 695.2 447.2 693.9 464.0 Q 693.9 479.1 696.8 491.7"/>
<path class="t" d="M 723.7 408.5 Q 714.5 417.8 705.3 435.4 Q 698.1 449.7 696.8 465.7 Q 697.0 478.3 699.4 490.0"/>
<path class="t" d="M 694.3 490.0 Q 699.4 501.8 708.6 509.3 L 723.3 514.1 M 696.8 490.0 Q 702.3 500.9 711.1 508.1 L 723.3 512.9 M 689.3 490.0 Q 693.1 499.2 693.1 506.0"/>
<path class="t" d="M 712.0 490.0 Q 715.3 498.4 723.7 504.7 M 708.6 519.0 Q 713.7 521.3 723.7 521.5 M 723.3 528.2 L 723.3 531.6 M 717.9 490.8 L 723.7 493.4 M 719.5 494.2 L 722.1 491.7 M 720.8 498.0 L 723.3 495.0"/>
<path class="t" d="M 723.7 436.3 Q 714.5 452.2 712.0 469.0 Q 711.1 479.1 712.4 490.0"/>
<ellipse class="t" cx="699.8" cy="426.6" rx="2.8" ry="4.2" transform="rotate(12 699.8 426.6)"/>
<path class="h" d="M 680.5 398.0 L 688.4 395.5 L 690.5 396.8 L 695.6 395.9 L 700.2 395.9 L 704.8 398.9 L 704.8 420.7 L 702.7 421.1 L 701.1 418.6 L 697.3 418.2 L 695.6 420.3 L 695.2 424.5 L 692.2 426.2 L 685.1 424.5 L 680.5 420.7 Z" style="fill:#b2b2b2"/>
<path class="t" d="M 680.5 398.0 L 684.4 400.5 L 684.9 424.3 L 680.5 420.7 Z" style="fill:#8c8c8c;stroke:none"/>
<path class="t" d="M 684.9 403.9 L 693.1 403.7 L 692.8 424.5 L 685.3 424.3 Z" style="fill:#c2c2c2;stroke:#444"/>
<path class="t" d="M 684.4 400.5 L 693.9 400.1 L 695.2 401.8 L 693.1 403.7 L 684.9 403.9 Z" style="fill:#c8c8c8;stroke:#444"/>
<path class="t" d="M 695.2 401.8 L 695.6 406.8 L 693.9 407.3 M 695.6 414.4 L 694.2 415.3 L 694.2 420.3 M 703.2 400.5 L 703.2 418.6" style="stroke:#555"/>
<path class="t" d="M 696.4 409.8 L 700.2 409.4 L 700.2 413.6 L 696.4 413.6 Z" style="fill:#e4e4e4;stroke:none"/>
<path class="h" d="M 681.7 512.3 L 687.6 506.4 L 690.5 507.6 L 694.3 505.5 L 699.4 506.0 L 703.6 509.3 L 706.9 527.0 L 704.8 528.2 L 703.2 524.0 L 698.9 524.5 L 697.3 527.0 L 697.3 536.2 L 688.4 535.8 L 685.9 530.3 Z" style="fill:#b2b2b2"/>
<path class="t" d="M 681.7 512.3 L 684.4 514.8 L 688.9 535.4 L 685.9 530.3 Z" style="fill:#8c8c8c;stroke:none"/>
<path class="t" d="M 685.9 518.7 L 693.7 518.4 L 696.0 535.8 L 688.9 535.5 Z" style="fill:#c2c2c2;stroke:#444"/>
<path class="t" d="M 684.4 514.8 L 694.3 512.5 L 695.3 517.7 L 693.7 518.4 L 685.9 518.7 Z" style="fill:#c8c8c8;stroke:#444"/>
<path class="t" d="M 695.3 517.7 L 697.0 527.0 M 701.9 510.2 L 704.4 525.3" style="stroke:#555"/>
<path class="t" d="M 696.0 515.6 L 700.2 515.2 L 700.6 519.4 L 696.4 519.6 Z" style="fill:#e4e4e4;stroke:none"/></g></g>
<!-- labels -->
<g id="labels" style="opacity:0.99;will-change:opacity">
<text x="140" y="12" textLength="69" lengthAdjust="spacingAndGlyphs">Lens lever</text>
<text x="25.5" y="304.8" textLength="70" lengthAdjust="spacingAndGlyphs">Mount cap</text>
<text x="180.3" y="343" textLength="35" lengthAdjust="spacingAndGlyphs">Fig. 1</text>
<text x="685.6" y="12" textLength="32.6" lengthAdjust="spacingAndGlyphs">Mark</text>
<text x="693.3" y="343" textLength="36" lengthAdjust="spacingAndGlyphs">Fig. 2</text>
<text x="180.3" y="706.2" textLength="35.7" lengthAdjust="spacingAndGlyphs">Fig. 3</text>
<text x="770.9" y="414.3" textLength="82.8" lengthAdjust="spacingAndGlyphs">Cable clamp</text>
<text x="570.5" y="652.6" textLength="112.3" lengthAdjust="spacingAndGlyphs">&lt;LENS&gt; terminal</text>
<text x="693.2" y="697.1" textLength="36.7" lengthAdjust="spacingAndGlyphs">Fig. 4</text>
</g>
<g id="leaders">
<path class="ld" d="M175.7 21V168.4"/>
<path class="ld" d="M34.5 228.5V286"/>
<path class="ld" d="M705.4 19.5V131.5M705.4 38.3H753.2V130.5"/>
<path class="ld" d="M699 411H768M759.8 411V516.8M698 516.8H759.8"/>
<path class="ld" d="M626.2 575V634"/>
</g>
</svg>
</body></html>
